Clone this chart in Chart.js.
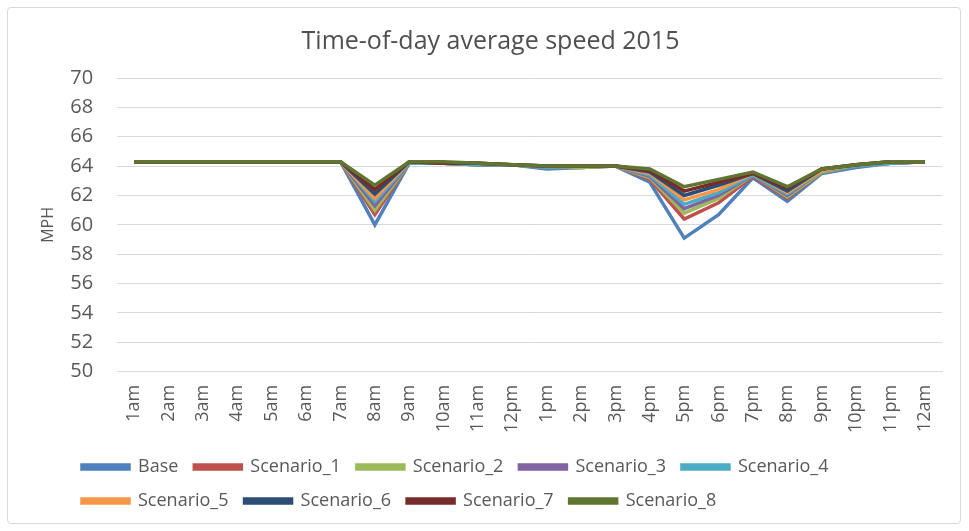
<!DOCTYPE html>
<html><head><meta charset="utf-8">
<script src="https://cdn.jsdelivr.net/npm/chart.js@4"></script>
<style>
html,body{margin:0;padding:0;background:#fff;}
#wrap{position:relative;width:969px;height:531px;}
#frame{position:absolute;left:7px;top:7px;width:952px;height:515px;border:1px solid #d9d9d9;border-radius:4px;}
canvas{position:absolute;left:0;top:0;}
</style></head>
<body>
<div id="wrap"><div id="frame"></div><canvas id="c" width="969" height="531"></canvas></div>
<script>
const hours = ["1am","2am","3am","4am","5am","6am","7am","8am","9am","10am","11am","12pm","1pm","2pm","3pm","4pm","5pm","6pm","7pm","8pm","9pm","10pm","11pm","12am"];
const seriesNames = ["Base","Scenario_1","Scenario_2","Scenario_3","Scenario_4","Scenario_5","Scenario_6","Scenario_7","Scenario_8"];
const base = [64.3,64.3,64.3,64.3,64.3,64.3,64.3,60.0,64.2,64.2,64.1,64.1,63.8,63.9,64.0,62.9,59.1,60.7,63.2,61.6,63.5,63.9,64.2,64.3];
const s1   = [64.3,64.3,64.3,64.3,64.3,64.3,64.3,60.7,64.2,64.2,64.1,64.1,63.9,63.9,64.0,63.1,60.4,61.5,63.3,61.8,63.6,64.0,64.2,64.3];
const s2   = [64.3,64.3,64.3,64.3,64.3,64.3,64.3,61.0,64.2,64.2,64.1,64.1,63.9,63.9,64.0,63.2,60.8,61.8,63.4,61.9,63.6,64.0,64.2,64.3];
const s3   = [64.3,64.3,64.3,64.3,64.3,64.3,64.3,61.3,64.2,64.2,64.1,64.1,63.9,64.0,64.0,63.3,61.1,62.0,63.4,62.0,63.7,64.0,64.2,64.3];
const s4   = [64.3,64.3,64.3,64.3,64.3,64.3,64.3,61.6,64.2,64.2,64.1,64.1,63.9,64.0,64.0,63.4,61.4,62.2,63.4,62.1,63.7,64.0,64.2,64.3];
const s5   = [64.3,64.3,64.3,64.3,64.3,64.3,64.3,61.8,64.3,64.2,64.2,64.1,64.0,64.0,64.0,63.5,61.7,62.4,63.5,62.2,63.7,64.1,64.3,64.3];
const s6   = [64.3,64.3,64.3,64.3,64.3,64.3,64.3,62.1,64.3,64.2,64.2,64.1,64.0,64.0,64.0,63.6,62.0,62.7,63.5,62.3,63.8,64.1,64.3,64.3];
const s7   = [64.3,64.3,64.3,64.3,64.3,64.3,64.3,62.4,64.3,64.2,64.2,64.1,64.0,64.0,64.0,63.7,62.3,62.9,63.5,62.5,63.8,64.1,64.3,64.3];
const s8   = [64.3,64.3,64.3,64.3,64.3,64.3,64.3,62.7,64.3,64.3,64.2,64.1,64.0,64.0,64.0,63.8,62.6,63.1,63.6,62.6,63.8,64.1,64.3,64.3];
const yTicks = [50,52,54,56,58,60,62,64,66,68,70];
const colors = ["#4F81BD","#C0504D","#9BBB59","#8064A2","#4BACC6","#F79646","#2C4D75","#772C2A","#5F7530"];
const values = [base,s1,s2,s3,s4,s5,s6,s7,s8];

const datasets = values.map((v,i)=>({
  label: seriesNames[i], data: v,
  borderColor: colors[i], backgroundColor: colors[i],
  borderWidth: 3.5, pointRadius: 0, tension: 0, fill: false,
  order: values.length - i, borderJoinStyle: 'miter'
}));

const legendShift = { id: 'legendShift', afterLayout(chart) {
  const lg = chart.legend; if (!lg) return;
  const dx = 82 - (lg.left + lg.options.labels.padding);
  lg.left += dx; lg.right += dx;
}};

const FONT = "'Open Sans', sans-serif";
new Chart(document.getElementById('c'), {
  type: 'line',
  data: { labels: hours, datasets },
  plugins: [legendShift],
  options: {
    responsive: false, animation: false,
    layout: { padding: { left: 39, right: 27, top: 12, bottom: 11 } },
    plugins: {
      title: { display: true, text: "Time-of-day average speed 2015", color: "#505050",
        font: { family: FONT, size: 25, weight: 'normal' }, padding: { top: 15, bottom: 21 } },
      legend: { position: 'bottom', align: 'start',
        labels: { boxWidth: 47, boxHeight: 4, padding: 16, color: "#595959",
          font: { family: FONT, size: 18 },
          sort: (a,b)=>a.datasetIndex-b.datasetIndex }
      },
      tooltip: { enabled: false }
    },
    scales: {
      x: { offset: true, grid: { display: false, drawTicks: false }, border: { display: true, color: '#d9d9d9' },
        afterFit: s => { s.height -= 4; },
        ticks: { color: "#595959", font: { family: FONT, size: 18 }, maxRotation: 90, minRotation: 90, padding: 13, autoSkip: false } },
      y: { min: 50, max: 70, afterBuildTicks: ax => { ax.ticks = yTicks.map(v=>({value:v})); },
        grid: { color: '#d9d9d9', drawTicks: false }, border: { display: false },
        ticks: { color: "#595959", font: { family: FONT, size: 20 }, padding: 24 },
        title: { display: true, text: "MPH", color: "#595959", font: { family: FONT, size: 16 }, padding: { top: 0, bottom: -12 } } }
    }
  }
});
</script>
</body></html>
